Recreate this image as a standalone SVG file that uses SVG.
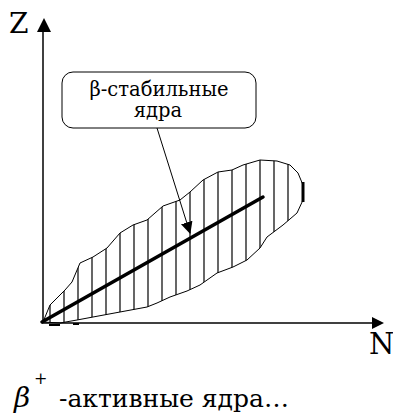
<svg xmlns="http://www.w3.org/2000/svg" width="393" height="414" viewBox="0 0 393 414">
<style>
.ax{stroke:#000;stroke-width:1.5;fill:none}
.thin{stroke:#000;stroke-width:1;fill:none}
.t{font-family:"DejaVu Serif","Liberation Serif",serif;fill:#000}
</style>
<defs>
<marker id="ah" viewBox="0 0 12 12" refX="11" refY="6" markerWidth="12" markerHeight="12" markerUnits="userSpaceOnUse" orient="auto">
<path d="M0,0 L12,6 L0,12 Z" fill="#000"/>
</marker>
<clipPath id="regclip">
<path d="M43,322 L50,305 L65,290 L72,282 L80,263 L93,257 L107,248 L120,233 L133,225 L147,220 L163,206 L180,200 L190,192 L203,180 L218,172 L232,170 L243,165 L260,160 L277,161 L290,165 L298,173 L303,185 L303,200 L297,213 L283,225 L267,237 L260,248 L247,260 L233,267 L217,273 L200,285 L187,291 L170,297 L157,303 L147,307 L120,312 L93,317 L77,320 L60,323 Z"/>
</clipPath>
</defs>
<g id="region">
<path class="thin" d="M43,322 L50,305 L65,290 L72,282 L80,263 L93,257 L107,248 L120,233 L133,225 L147,220 L163,206 L180,200 L190,192 L203,180 L218,172 L232,170 L243,165 L260,160 L277,161 L290,165 L298,173 L303,185 L303,200 L297,213 L283,225 L267,237 L260,248 L247,260 L233,267 L217,273 L200,285 L187,291 L170,297 L157,303 L147,307 L120,312 L93,317 L77,320 L60,323 Z"/>
<g clip-path="url(#regclip)" stroke="#000" stroke-width="1.2">
<line x1="50" y1="150" x2="50" y2="330"/>
<line x1="64" y1="150" x2="64" y2="330"/>
<line x1="78" y1="150" x2="78" y2="330"/>
<line x1="92" y1="150" x2="92" y2="330"/>
<line x1="106" y1="150" x2="106" y2="330"/>
<line x1="120" y1="150" x2="120" y2="330"/>
<line x1="134" y1="150" x2="134" y2="330"/>
<line x1="148" y1="150" x2="148" y2="330"/>
<line x1="162" y1="150" x2="162" y2="330"/>
<line x1="176" y1="150" x2="176" y2="330"/>
<line x1="190" y1="150" x2="190" y2="330"/>
<line x1="204" y1="150" x2="204" y2="330"/>
<line x1="218" y1="150" x2="218" y2="330"/>
<line x1="232" y1="150" x2="232" y2="330"/>
<line x1="246" y1="150" x2="246" y2="330"/>
<line x1="260" y1="150" x2="260" y2="330"/>
<line x1="274" y1="150" x2="274" y2="330"/>
<line x1="288" y1="150" x2="288" y2="330"/>
</g>
<line x1="303" y1="182" x2="303" y2="202" stroke="#000" stroke-width="3"/>
<line x1="49" y1="325" x2="60" y2="325" stroke="#000" stroke-width="2"/>
<line x1="73" y1="324" x2="79" y2="324" stroke="#000" stroke-width="2"/>
</g>
<g id="axes">
<line class="ax" x1="43" y1="323" x2="43" y2="30"/>
<path d="M44,18 L37,32 L51,32 Z" fill="#000"/>
<line class="ax" x1="42" y1="323" x2="374" y2="323"/>
<path d="M384,323 L372,317 L372,329 Z" fill="#000"/>
<text class="t" x="9" y="33" font-size="28">Z</text>
<text class="t" x="369" y="354" font-size="29">N</text>
</g>
<g id="trend">
<line x1="42" y1="322" x2="263" y2="197" stroke="#000" stroke-width="3.5" stroke-linecap="round"/>
</g>
<g id="label">
<rect x="62" y="72" width="194" height="56" rx="11" ry="11" class="thin"/>
<text class="t" x="159" y="96" font-size="19.5" text-anchor="middle">β-стабильные</text>
<text class="t" x="158" y="117" font-size="19.5" text-anchor="middle">ядра</text>
</g>
<g id="connectors">
<line class="thin" x1="157" y1="128" x2="190" y2="233" marker-end="url(#ah)"/>
</g>
<g id="caption">
<text class="t" x="14" y="407" font-size="28" font-style="italic">β</text>
<text class="t" x="34" y="384" font-size="16">+</text>
<text class="t" x="59" y="407" font-size="25">-активные ядра…</text>
</g>
</svg>
